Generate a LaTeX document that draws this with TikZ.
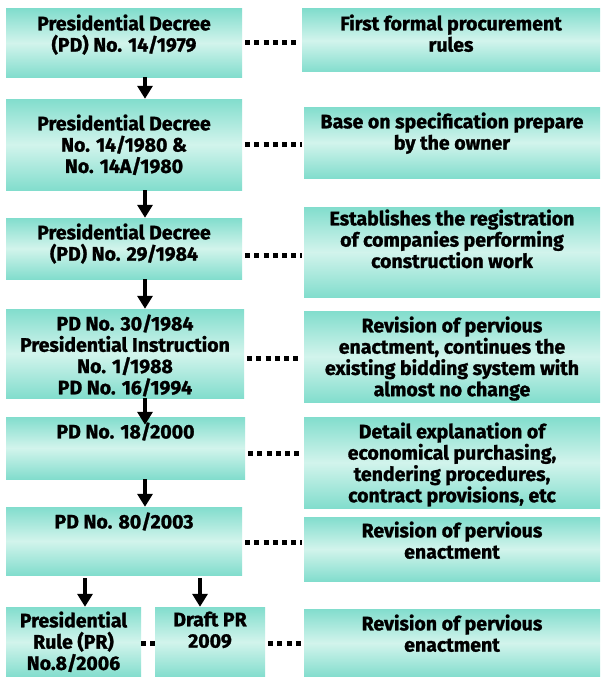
\documentclass[tikz,border=0pt]{standalone}
\usepackage{fontspec}
\setmainfont{Fira Sans}[BoldFeatures={FakeBold=1.3}]
\usetikzlibrary{arrows.meta}
\definecolor{tealedge}{RGB}{130,221,205}
\definecolor{tealmid}{RGB}{210,244,236}
\begin{document}
\begin{tikzpicture}[x=1pt,y=-1pt,
  box/.style={draw=none, rectangle, inner sep=0pt, top color=tealedge, bottom color=tealedge, middle color=tealmid},
  txt/.style={font=\bfseries\fontsize{19.5}{21.3}\selectfont, align=center, inner sep=0pt, anchor=north},
  arr/.style={line width=4.5pt, -{Triangle[width=15pt,length=13pt]}},
  dots/.style={line width=5pt, dash pattern=on 5pt off 4.2pt, shorten <=3pt, shorten >=2pt}]
\useasboundingbox[fill=white] (0,0) rectangle (600,677);
% left column
\node[box, minimum width=236pt, minimum height=68pt] (L1) at (124,43) {};
\node[box, minimum width=236pt, minimum height=91pt] (L2) at (124,144.5) {};
\node[box, minimum width=236pt, minimum height=61pt] (L3) at (124,248.5) {};
\node[box, minimum width=238pt, minimum height=89pt] (L4) at (125,353.5) {};
\node[box, minimum width=239pt, minimum height=62pt] (L5) at (125.5,448) {};
\node[box, minimum width=236pt, minimum height=68pt] (L6) at (124,541) {};
\node[box, minimum width=135pt, minimum height=70pt] (PR) at (73.5,642) {};
\node[box, minimum width=110pt, minimum height=70pt] (DR) at (210,642) {};
% right column
\node[box, minimum width=298pt, minimum height=63pt] (R1) at (451,40.5) {};
\node[box, minimum width=296pt, minimum height=71pt] (R2) at (452,142.5) {};
\node[box, minimum width=296pt, minimum height=90pt] (R3) at (452,252) {};
\node[box, minimum width=296pt, minimum height=91pt] (R4) at (452,356.5) {};
\node[box, minimum width=296pt, minimum height=91pt] (R5) at (452,462.5) {};
\node[box, minimum width=296pt, minimum height=64pt] (R6) at (452,549) {};
\node[box, minimum width=296pt, minimum height=68pt] (R7) at (452,643) {};
% texts
\node[txt] (tL1) at ([yshift=-5.5pt]L1.north) {Presidential Decree\\(PD) No. 14/1979};
\node[txt] (tL2) at ([yshift=-15.5pt]L2.north) {Presidential Decree\\No. 14/1980 \&\\No. 14A/1980};
\node[txt] (tL3) at ([yshift=-5.5pt]L3.north) {Presidential Decree\\(PD) No. 29/1984};
\node[txt] (tL4) at ([yshift=-5.5pt]L4.north) {PD No. 30/1984\\Presidential Instruction\\No. 1/1988\\PD No. 16/1994};
\node[txt] (tL5) at ([yshift=-5.5pt]L5.north) {PD No. 18/2000};
\node[txt] (tL6) at ([yshift=-5.5pt]L6.north) {PD No. 80/2003};
\node[txt] (tPR) at ([yshift=-4.5pt]PR.north) {Presidential\\Rule (PR)\\No.8/2006};
\node[txt] (tDR) at ([yshift=-4.5pt]DR.north) {Draft PR\\2009};
\node[txt] (tR1) at ([yshift=-5.5pt]R1.north) {First formal procurement\\rules};
\node[txt] (tR2) at ([yshift=-5.5pt]R2.north) {Base on specification prepare\\by the owner};
\node[txt] (tR3) at ([yshift=-2.5pt]R3.north) {Establishes the registration\\of companies performing\\construction work};
\node[txt] (tR4) at ([yshift=-5.5pt]R4.north) {Revision of pervious\\enactment, continues the\\existing bidding system with\\almost no change};
\node[txt] (tR5) at ([yshift=-5.5pt]R5.north) {Detail explanation of\\economical purchasing,\\tendering procedures,\\contract provisions, etc};
\node[txt] (tR6) at ([yshift=-4.5pt]R6.north) {Revision of pervious\\enactment};
\node[txt] (tR7) at ([yshift=-5.5pt]R7.north) {Revision of pervious\\enactment};
% arrow columns
\coordinate (xa) at (145,0);
\coordinate (xb) at (85,0);
\coordinate (xc) at (200,0);
\path (L5.north -| xa) ++(0,8) coordinate (l5in);
\draw[arr] (L1.south -| xa) -- (L2.north -| xa);
\draw[arr] (L2.south -| xa) -- (L3.north -| xa);
\draw[arr] (L3.south -| xa) -- (L4.north -| xa);
\draw[arr] (L4.south -| xa) -- (l5in);
\draw[arr] (L5.south -| xa) -- (L6.north -| xa);
\draw[arr] ([yshift=-3pt]L6.south -| xb) -- (PR.north -| xb);
\draw[arr] ([yshift=-3pt]L6.south -| xc) -- (DR.north -| xc);
% dotted connectors
\draw[dots] (L1.east |- 0,43) -- (R1.west |- 0,43);
\draw[dots] (L2.east |- 0,144) -- (R2.west |- 0,144);
\draw[dots] (L3.east |- 0,255) -- (R3.west |- 0,255);
\draw[dots] (L4.east |- 0,358) -- (R4.west |- 0,358);
\draw[dots] (L5.east |- 0,453) -- (R5.west |- 0,453);
\draw[dots] (L6.east |- 0,542) -- (R6.west |- 0,542);
\draw[dots, shorten <=0pt, shorten >=0pt] (PR.east |- 0,643) -- (DR.west |- 0,643);
\draw[dots] (DR.east |- 0,643) -- (R7.west |- 0,643);
\end{tikzpicture}
\end{document}
